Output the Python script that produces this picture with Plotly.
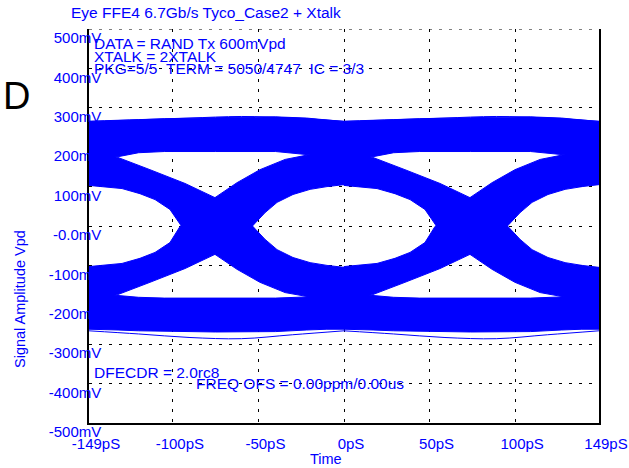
import plotly.graph_objects as go

BLUE = "#0000ff"
FONT = "Liberation Sans, Arial, sans-serif"

# ---- axis ticks -------------------------------------------------------------
x_tickvals = [-149, -100, -50, 0, 50, 100, 149]
x_ticktext = ["-149pS", "-100pS", "-50pS", "0pS", "50pS", "100pS", "149pS"]
y_tickvals = [-500, -400, -300, -200, -100, 0, 100, 200, 300, 400, 500]
y_ticktext = ["-500mV", "-400mV", "-300mV", "-200mV", "-100mV", "-0.0mV",
              "100mV", "200mV", "300mV", "400mV", "500mV"]

# ---- eye envelope, one unit interval (ps relative to eye centre, mV) --------
ui_offsets = [0, 149]

# steady "1" and "0" rails
t_rail = [-149, -132, -120, -105, -75, -40, -22, -10, 0]
upper_rail_top = [265, 268, 270, 272, 275, 277, 274, 270, 265]
upper_rail_bot = [172, 176, 186, 189, 189, 189, 182, 176, 172]
lower_rail_top = [-170, -177, -181, -183, -183, -183, -180, -175, -170]
lower_rail_bot = [-262, -264, -266, -268, -269, -268, -264, -262, -262]

# falling transitions (1 -> 0)
t_fall_a = [-149, -132.1, -113.4, -92.9, -75.4, -63.7, -53.7, -46.1, -39.1,
            -29.8, -19.8, -9.9, 0]
v_fall_a = [189, 174, 143, 108, 72, 42, 1, -34, -60, -80, -93, -100, -105]
t_fall_b = [-149, -139.6, -129.7, -119.2, -110.4, -101.7, -95.2, -87.0,
            -75.4, -62.5, -49.1, -34.4, -21.6, 0]
v_fall_b = [103, 100, 95, 82, 67, 42, 1, -34, -72, -110, -143, -169, -179,
            -186]

# rising transitions (0 -> 1)
t_rise_a = [-149, -132.1, -113.4, -92.9, -75.4, -63.7, -53.7, -46.1, -39.1,
            -29.8, -19.8, -9.9, 0]
v_rise_a = [-189, -174, -143, -108, -72, -42, -1, 34, 60, 80, 93, 100, 105]
t_rise_b = [-149, -139.6, -129.7, -119.2, -110.4, -101.7, -95.8, -87.0,
            -75.4, -62.5, -49.1, -34.4, -21.6, 0]
v_rise_b = [-103, -100, -95, -82, -67, -42, -1, 34, 72, 110, 143, 169, 180,
            188]

# a few stray traces just outside the dense envelope
t_stray = [-149, -120, -90, -60, -30, 0]
stray_low = [-266, -274, -283, -286, -276, -266]
stray_high = [266, 270, 274, 278, 274, 266]

bands = [
    (t_rail, upper_rail_top, t_rail, upper_rail_bot),
    (t_rail, lower_rail_top, t_rail, lower_rail_bot),
    (t_fall_a, v_fall_a, t_fall_b, v_fall_b),
    (t_rise_a, v_rise_a, t_rise_b, v_rise_b),
]

fig = go.Figure()
for off in ui_offsets:
    for ta, va, tb, vb in bands:
        xs = [t + off for t in ta] + [t + off for t in reversed(tb)]
        ys = list(va) + list(reversed(vb))
        fig.add_trace(go.Scatter(
            x=xs + xs[:1], y=ys + ys[:1], mode="lines", fill="toself",
            fillcolor=BLUE, line=dict(color=BLUE, width=1),
            hoverinfo="skip", showlegend=False))
    for vals in (stray_low, stray_high):
        fig.add_trace(go.Scatter(
            x=[t + off for t in t_stray], y=vals, mode="lines",
            line=dict(color=BLUE, width=1, shape="spline"),
            hoverinfo="skip", showlegend=False))

grid = dict(showgrid=True, gridcolor="black", gridwidth=1, griddash="3px,7px",
            zeroline=False, showline=True, linecolor="black", linewidth=1.5,
            ticks="", tickfont=dict(family=FONT, size=15, color=BLUE),
            automargin=False)

fig.update_xaxes(range=[-149, 149], tickvals=x_tickvals, ticktext=x_ticktext,
                 ticklabelshift=7, ticklabelstandoff=6, **grid)
fig.update_yaxes(range=[-500, 500], tickvals=y_tickvals, ticktext=y_ticktext,
                 mirror=True, ticklabelshift=9, ticklabelstandoff=-17, **grid)

# dashed top border at 500mV
fig.add_shape(type="line", xref="paper", yref="y", x0=0, x1=1, y0=500, y1=500,
              line=dict(color="black", width=1, dash="3px,7px"))

W, H = 629, 468
L, R, T, B = 89, 30, 29, 45


def px(xp):
    return (xp - L) / (W - L - R)


def py(yp):
    return (H - B - yp) / (H - T - B)


def note(text, xp, yp, size=15.5, color=BLUE, anchor="left"):
    fig.add_annotation(text=text, xref="paper", yref="paper", x=px(xp), y=py(yp),
                       xanchor=anchor, yanchor="middle", showarrow=False,
                       font=dict(family=FONT, size=size, color=color))


note("Eye FFE4 6.7Gb/s Tyco_Case2 + Xtalk", 69, 12)
note("D", 1, 96, size=38, color="black")
note("DATA = RAND Tx 600mVpd", 92, 43)
note("XTALK = 2XTALK", 92, 56)
note("PKG=5/5\u00a0\u00a0TERM = 5050/4747\u00a0\u00a0IC = 3/3", 92, 68)
note("DFECDR = 2.0rc8", 92, 372)
note("FREQ OFS = 0.00ppm/0.00us", 194, 383)
note("Time", 326, 459, size=14.5, anchor="center")

fig.add_annotation(text="Signal Amplitude Vpd", xref="paper", yref="paper",
                   x=px(20), y=py(299), xanchor="center", yanchor="middle",
                   textangle=-90, showarrow=False,
                   font=dict(family=FONT, size=14.5, color=BLUE))

fig.update_layout(width=W, height=H, margin=dict(l=L, r=R, t=T, b=B),
                  paper_bgcolor="white", plot_bgcolor="white",
                  showlegend=False)

fig.write_html("out.html")
